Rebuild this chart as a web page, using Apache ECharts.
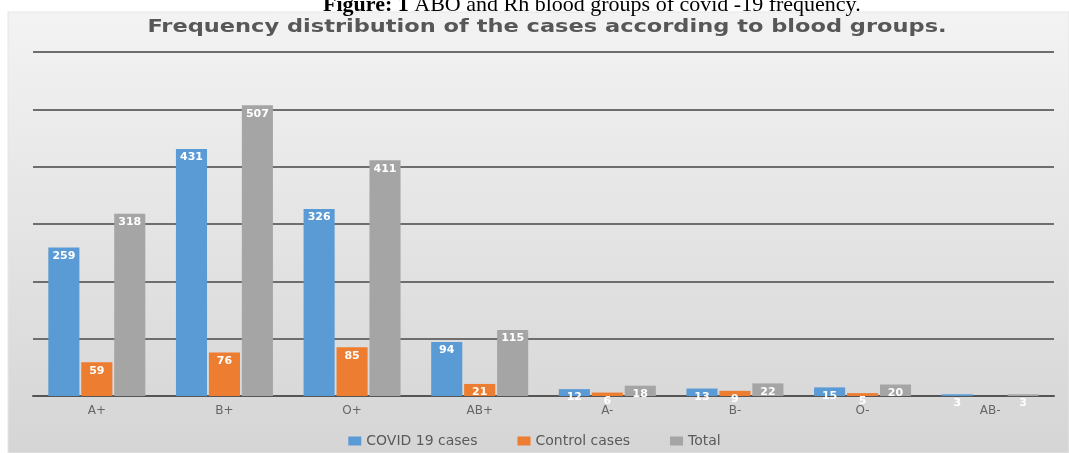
<!DOCTYPE html>
<html>
<head>
<meta charset="utf-8">
<title>Blood groups</title>
<style>
  html, body { margin: 0; padding: 0; background: #fff; }
  #main { width: 1069px; height: 453px; }
</style>
</head>
<body>
<div id="main"></div>
<script src="https://cdn.jsdelivr.net/npm/echarts@6/dist/echarts.min.js"></script>
<script>
// data
var groups = ['A+', 'B+', 'O+', 'AB+', 'A-', 'B-', 'O-', 'AB-'];
var covidCases = [259, 431, 326, 94, 12, 13, 15, 3];
var controlCases = [59, 76, 85, 21, 6, 9, 5, 0];
var totalCases = [318, 507, 411, 115, 18, 22, 20, 3];

var myChart = echarts.init(document.getElementById('main'));

function barLabel() {
    return {
        show: true,
        position: 'insideTop',
        distance: 3,
        color: '#fff',
        fontSize: 11,
        fontWeight: 'bold',
        fontFamily: 'DejaVu Sans',
        formatter: function (p) { return p.value ? p.value : ''; }
    };
}

option = {
    animation: false,
    graphic: [{
        type: 'rect',
        z: -10,
        shape: { x: 8, y: 12, width: 1061, height: 441 },
        style: {
            fill: new echarts.graphic.LinearGradient(0, 0, 0, 1, [
                { offset: 0, color: '#f3f3f3' },
                { offset: 1, color: '#d5d5d5' }
            ]),
            stroke: '#e6e6e6'
        }
    }, {
        // chart title, stretched a bit wide like the source image
        type: 'text',
        x: 547,
        y: 27,
        scaleX: 1.25,
        style: {
            text: 'Frequency distribution of the cases according to blood groups.',
            font: 'bold 18px "DejaVu Sans"',
            fill: '#575757',
            align: 'center',
            verticalAlign: 'middle'
        }
    }],
    title: {
        text: '{b|Figure: 1} ABO and Rh blood groups of covid -19 frequency.',
        left: 318,
        top: -11,
        textStyle: {
            fontFamily: 'Liberation Serif',
            fontSize: 22,
            fontWeight: 'normal',
            color: '#000',
            rich: {
                b: { fontFamily: 'Liberation Serif', fontSize: 22, fontWeight: 'bold', color: '#000' }
            }
        }
    },
    legend: {
        data: ['COVID 19 cases', 'Control cases', 'Total'],
        bottom: 0,
        left: 'center',
        itemWidth: 13,
        itemHeight: 9,
        itemGap: 40,
        icon: 'rect',
        textStyle: { color: '#5a5a5a', fontSize: 14, fontFamily: 'DejaVu Sans' }
    },
    grid: { left: 33, right: 15, top: 52, bottom: 57 },
    xAxis: {
        type: 'category',
        data: groups,
        axisLine: { show: true, lineStyle: { color: '#555', width: 2 } },
        axisTick: { show: false },
        axisLabel: { color: '#666', fontSize: 12, margin: 9, fontFamily: 'DejaVu Sans' },
        splitLine: { show: false }
    },
    yAxis: {
        type: 'value',
        min: 0,
        max: 600,
        interval: 100,
        axisLine: { show: false },
        axisTick: { show: false },
        axisLabel: { show: false },
        splitLine: { lineStyle: { color: '#6e6e6e', width: 2 } }
    },
    series: [{
        name: 'COVID 19 cases',
        type: 'bar',
        data: covidCases,
        itemStyle: { color: '#5b9bd5' },
        barGap: '6%',
        barCategoryGap: '24%',
        label: barLabel()
    }, {
        name: 'Control cases',
        type: 'bar',
        data: controlCases,
        itemStyle: { color: '#ed7d31' },
        label: barLabel()
    }, {
        name: 'Total',
        type: 'bar',
        data: totalCases,
        itemStyle: { color: '#a5a5a5' },
        label: barLabel()
    }]
};
myChart.setOption(option);
</script>
</body>
</html>
